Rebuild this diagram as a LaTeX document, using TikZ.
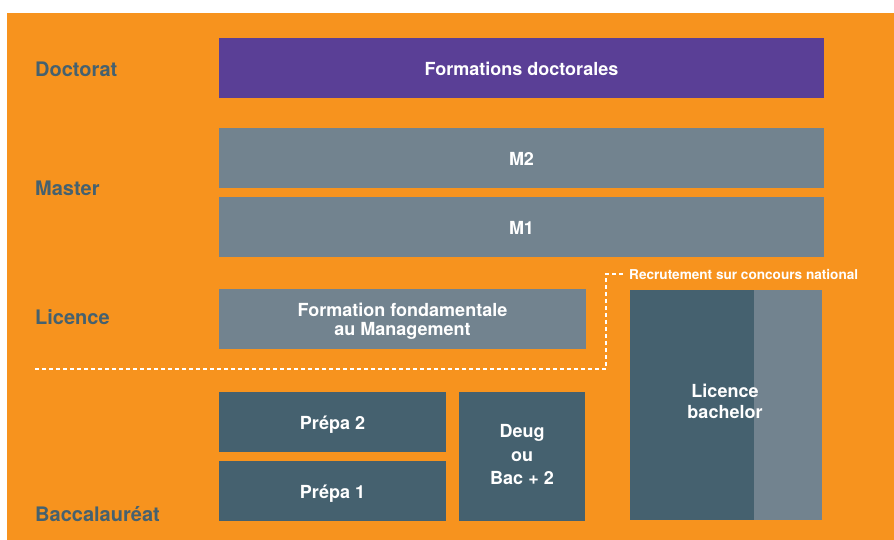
\documentclass[tikz,border=0pt]{standalone}
\usepackage{fontspec}
\setmainfont{TeX Gyre Heros}
\begin{document}
\begin{tikzpicture}[x=1pt,y=-1pt]
\definecolor{bgorange}{HTML}{F7931E}
\definecolor{purplebox}{HTML}{5A3F96}
\definecolor{graybox}{HTML}{72838F}
\definecolor{darkbox}{HTML}{45616F}
\tikzset{
  blk/.style={inner sep=0pt, outer sep=0pt, text=white, font=\fontsize{18}{19}\selectfont\bfseries, align=center},
  lvl/.style={anchor=base west, inner sep=0pt, text=darkbox, font=\fontsize{20}{22}\selectfont\bfseries},
  dashline/.style={draw=white, line width=1.2pt, dash pattern=on 4pt off 3pt}
}
\useasboundingbox (0,0) rectangle (894,540);
\fill[white] (0,0) rectangle (894,540);
\fill[bgorange] (7,13) rectangle (894,540);

% level labels
\node[lvl] (ldoc) at (35,77) {Doctorat};
\node[lvl] (lmas) at (35,196) {Master};
\node[lvl] (llic) at (35,324) {Licence};
\node[lvl] (lbac) at (35,521) {Baccalauréat};

% boxes
\fill[purplebox] (219,38) rectangle (824,98);
\node[blk] (doc) at (521.5,68.5) {Formations doctorales};
\fill[graybox] (219,128) rectangle (824,188);
\node[blk] (m2) at (521.5,158.5) {M2};
\fill[graybox] (219,197) rectangle (824,257);
\node[blk] (m1) at (521.5,227.5) {M1};
\fill[graybox] (219,289) rectangle (586,349);
\node[blk] (ffm) at (402.5,321) {Formation fondamentale\\au Management};
\fill[darkbox] (219,392) rectangle (446,452);
\node[blk] (p2) at (332.5,424.5) {Prépa 2};
\fill[darkbox] (219,461) rectangle (446,521);
\node[blk] (p1) at (332.5,493.5) {Prépa 1};
\fill[darkbox] (459,392) rectangle (585,521);
\node[blk, font=\fontsize{18}{23.5}\selectfont\bfseries] (deug) at (522,455) {Deug\\ou\\Bac + 2};
\fill[darkbox] (630,290) rectangle (754,520);
\fill[graybox] (754,290) rectangle (822,520);
\node[blk, font=\fontsize{18}{21}\selectfont\bfseries] (lb) at (725,401) {Licence\\bachelor};

% dashed connector
\coordinate (d0) at (35,369);
\coordinate (d1) at (606,369);
\coordinate (d2) at (606,274);
\coordinate (d3) at (623,274);
\draw[dashline] (d0) -- (d1) -- (d2) -- (d3);
\node[anchor=base west, inner sep=0pt, text=white, font=\fontsize{13.6}{14}\selectfont\bfseries] (rec) at (629,279) {Recrutement sur concours national};
\end{tikzpicture}
\end{document}
